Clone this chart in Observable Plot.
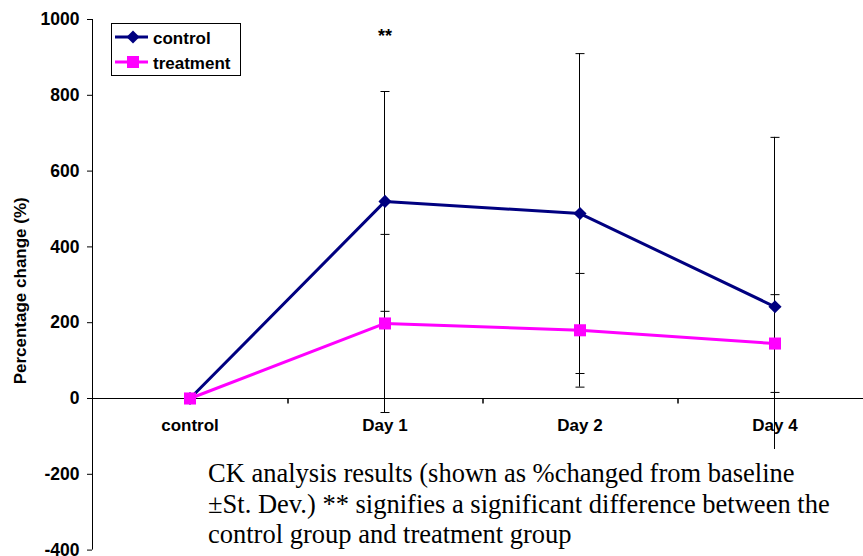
<!DOCTYPE html>
<html>
<head>
<meta charset="utf-8">
<script src="https://cdn.jsdelivr.net/npm/d3@7"></script>
<script src="https://cdn.jsdelivr.net/npm/@observablehq/plot@0.6"></script>
<style>
  html, body { margin: 0; padding: 0; background: #fff; overflow: hidden; }
  #wrap { position: relative; width: 863px; height: 556px; overflow: hidden; }
  #legend { position: absolute; left: 110px; top: 22px; }
  #caption {
    position: absolute; left: 200px; top: 449px; width: 663px; height: 107px;
    background: #fff; padding: 9px 0 0 8px; box-sizing: border-box;
    font-family: "Liberation Serif", "Times New Roman", serif; font-size: 26.5px;
    line-height: 30.5px; color: #000; white-space: pre;
  }
</style>
</head>
<body>
<div id="wrap"></div>
<script>
const categories = ["control", "Day 1", "Day 2", "Day 4"];
const controlMean = [0, 520, 488, 242];
const controlSD = [0, 290, 422, 447];
const treatmentMean = [0, 198, 180, 145];
const treatmentSD = [0, 235, 150, 129];
const yTicks = [-400, -200, 0, 200, 400, 600, 800, 1000];
const seriesNames = ["control", "treatment"];
const significance = [{cat: "Day 1", label: "**"}];
const yTitle = "Percentage change (%)";
const captionText = "CK analysis results (shown as %changed from baseline\n±St. Dev.) ** signifies a significant difference between the\ncontrol group and treatment group";

const rows = (means, sds) => categories.map((c, i) => ({cat: c, i, mean: means[i], sd: sds[i]}));
const control = rows(controlMean, controlSD);
const treatment = rows(treatmentMean, treatmentSD);
const xpos = d => d.i + 0.5;

const capSymbol = { draw(ctx, size) { const r = Math.sqrt(size / Math.PI); ctx.moveTo(-r, 0); ctx.lineTo(r, 0); } };
const vTickSymbol = { draw(ctx, size) { const r = Math.sqrt(size / Math.PI); ctx.moveTo(0, 0); ctx.lineTo(0, r); } };

function errMarks(data) {
  const withSd = data.filter(d => d.sd > 0);
  const caps = withSd.flatMap(d => [{i: d.i, v: d.mean + d.sd}, {i: d.i, v: d.mean - d.sd}]);
  return [
    Plot.ruleX(withSd, {x: xpos, y1: d => d.mean - d.sd, y2: d => d.mean + d.sd, dx: -0.5, stroke: "#000", strokeWidth: 1}),
    Plot.dot(caps, {x: d => d.i + 0.5, y: "v", symbol: capSymbol, r: 4.5, stroke: "#000", strokeWidth: 1, fill: "none"})
  ];
}

const font = "'Liberation Sans', Arial, sans-serif";
const chart = Plot.plot({
  width: 863, height: 556,
  marginLeft: 92, marginRight: 0, marginTop: 19, marginBottom: 6.4,
  x: {domain: [0, categories.length], range: [92, 872], axis: null},
  y: {domain: [yTicks[0], yTicks[yTicks.length - 1]], axis: null},
  style: {fontFamily: font, background: "#fff", color: "#000", overflow: "visible"},
  marks: [
    Plot.ruleY([0], {stroke: "#000", strokeWidth: 1}),
    Plot.dot(d3.range(1, categories.length + 1), {x: d => d, y: () => 0, dx: 0.5, symbol: vTickSymbol, r: 5, stroke: "#000", fill: "none"}),
    Plot.ruleX([0], {y1: yTicks[0], y2: yTicks[yTicks.length - 1], stroke: "#000", strokeWidth: 1}),
    Plot.axisY({ticks: yTicks, tickSize: 5, tickPadding: 8, fontSize: 17.5, fontWeight: "bold", tickFormat: d => String(d), label: null, anchor: "left"}),
    ...errMarks(control),
    ...errMarks(treatment),
    Plot.line(control, {x: xpos, y: "mean", stroke: "#000080", strokeWidth: 3}),
    Plot.dot(control, {x: xpos, y: "mean", symbol: "diamond2", r: 5.9, fill: "#000080", stroke: "none"}),
    Plot.line(treatment, {x: xpos, y: "mean", stroke: "#FF00FF", strokeWidth: 3}),
    Plot.dot(treatment, {x: xpos, y: "mean", symbol: "square", r: 6.8, fill: "#FF00FF", stroke: "none"}),
    Plot.text(categories, {x: (d, i) => i + 0.5, y: () => 0, dy: 27, fontSize: 17, fontWeight: "bold", fill: "#000"}),
    Plot.text(significance, {x: d => categories.indexOf(d.cat) + 0.5, text: "label", frameAnchor: "top", lineAnchor: "middle", dy: 17, fontSize: 18, fontWeight: "bold", fill: "#000"}),
    Plot.text([yTitle], {frameAnchor: "left", textAnchor: "middle", lineAnchor: "middle", rotate: -90, dx: -72, dy: 6, fontSize: 17, fontWeight: "bold", fill: "#000"})
  ]
});
const wrap = document.getElementById("wrap");
wrap.appendChild(chart);

// Legend
const legend = d3.create("svg").attr("id", "legend").attr("width", 133).attr("height", 56);
legend.append("rect").attr("x", 1.5).attr("y", 1.5).attr("width", 129).attr("height", 52).attr("fill", "#fff").attr("stroke", "#000");
const legendStyles = [
  {color: "#000080", shape: "diamond"},
  {color: "#FF00FF", shape: "square"}
];
seriesNames.forEach((name, k) => {
  const cy = 15 + k * 25;
  const st = legendStyles[k];
  legend.append("line").attr("x1", 5).attr("x2", 38).attr("y1", cy).attr("y2", cy).attr("stroke", st.color).attr("stroke-width", 3);
  if (st.shape === "diamond") {
    legend.append("path").attr("d", d3.symbol(d3.symbolDiamond2, 108)()).attr("transform", `translate(23,${cy})`).attr("fill", st.color);
  } else {
    legend.append("path").attr("d", d3.symbol(d3.symbolSquare, 144)()).attr("transform", `translate(23,${cy})`).attr("fill", st.color);
  }
  legend.append("text").attr("x", 43).attr("y", cy + 7).attr("font-family", font).attr("font-weight", "bold").attr("font-size", 17).attr("fill", "#000").text(name);
});
wrap.appendChild(legend.node());

const cap = document.createElement("div");
cap.id = "caption";
cap.textContent = captionText;
wrap.appendChild(cap);
</script>
</body>
</html>
